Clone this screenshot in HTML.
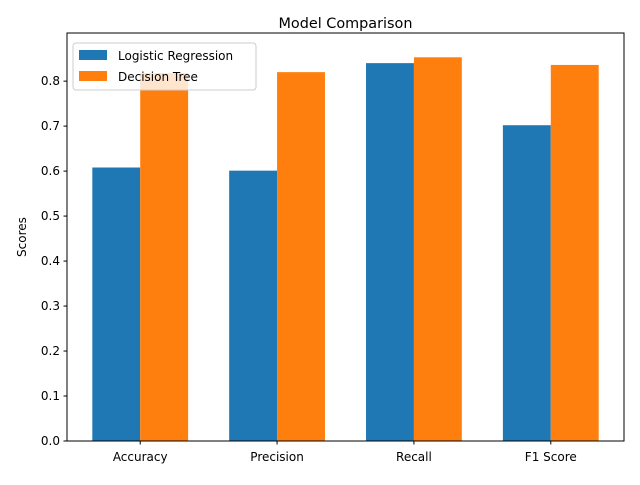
<!DOCTYPE html>
<html><head><meta charset="utf-8"><style>
body{margin:0;background:#fff;}
svg{font-family:"DejaVu Sans","Liberation Sans",sans-serif;}
</style></head><body>
<svg id="chart" width="640" height="480" xmlns="http://www.w3.org/2000/svg"></svg>
<script>
const categories=["Accuracy","Precision","Recall","F1 Score"];
const logisticValues=[0.608,0.601,0.840,0.702];
const treeValues=[0.818,0.820,0.853,0.836];
const yTicks=[0,0.1,0.2,0.3,0.4,0.5,0.6,0.7,0.8];
const seriesNames=["Logistic Regression","Decision Tree"];

const svg=document.getElementById('chart');
const NS="http://www.w3.org/2000/svg";
const L=67,R=624,T=33,B=441;
const xmin=-0.535,xmax=3.535,ymax=0.907;
const xs=v=>L+(v-xmin)/(xmax-xmin)*(R-L);
const ys=v=>B-v/ymax*(B-T);
function mk(tag,attrs,parent){const e=document.createElementNS(NS,tag);for(const k in attrs)e.setAttribute(k,attrs[k]);(parent||svg).appendChild(e);return e;}
const w=0.35;
const colors=["#1f77b4","#ff7f0e"];
[logisticValues,treeValues].forEach((vals,s)=>{
  vals.forEach((v,i)=>{
    const x0=xs(i+(s===0?-w:0)),x1=xs(i+(s===0?0:w));
    const r=mk('rect',{x:x0,y:ys(v),width:x1-x0,height:ys(0)-ys(v),fill:colors[s]});
    
    
  });
});
const ax=mk('rect',{x:L,y:T,width:R-L,height:B-T,fill:'none',stroke:'#000','stroke-width':1});


yTicks.forEach(t=>{
  const y=ys(t);
  mk('line',{x1:L-3.5,x2:L,y1:y,y2:y,stroke:'#000'});
  const tx=mk('text',{x:L-7,y:y+4,'text-anchor':'end','font-size':12});
  tx.textContent=t.toFixed(1);
  
  
});
categories.forEach((c,i)=>{
  const x=xs(i);
  mk('line',{x1:x,x2:x,y1:B,y2:B+3.5,stroke:'#000'});
  const tx=mk('text',{x:x,y:B+20,'text-anchor':'middle','font-size':12});
  tx.textContent=c;
  
  
});
const yl=mk('text',{x:0,y:0,transform:'translate(26,237) rotate(-90)','text-anchor':'middle','font-size':12});
yl.textContent='Scores';


const ti=mk('text',{x:(L+R)/2,y:28,'text-anchor':'middle','font-size':14.4});
ti.textContent='Model Comparison';


const lg=mk('g',{});


mk('rect',{x:73,y:43,width:183,height:47,rx:3,fill:'#fff','fill-opacity':0.8,stroke:'#ccc'},lg);
seriesNames.forEach((n,i)=>{
  const y=50+i*21;
  mk('rect',{x:79,y:y,width:28,height:10,fill:colors[i]},lg);
  const t=mk('text',{x:118,y:y+10,'font-size':12},lg);
  t.textContent=n;
  
  
});
</script>
</body></html>
